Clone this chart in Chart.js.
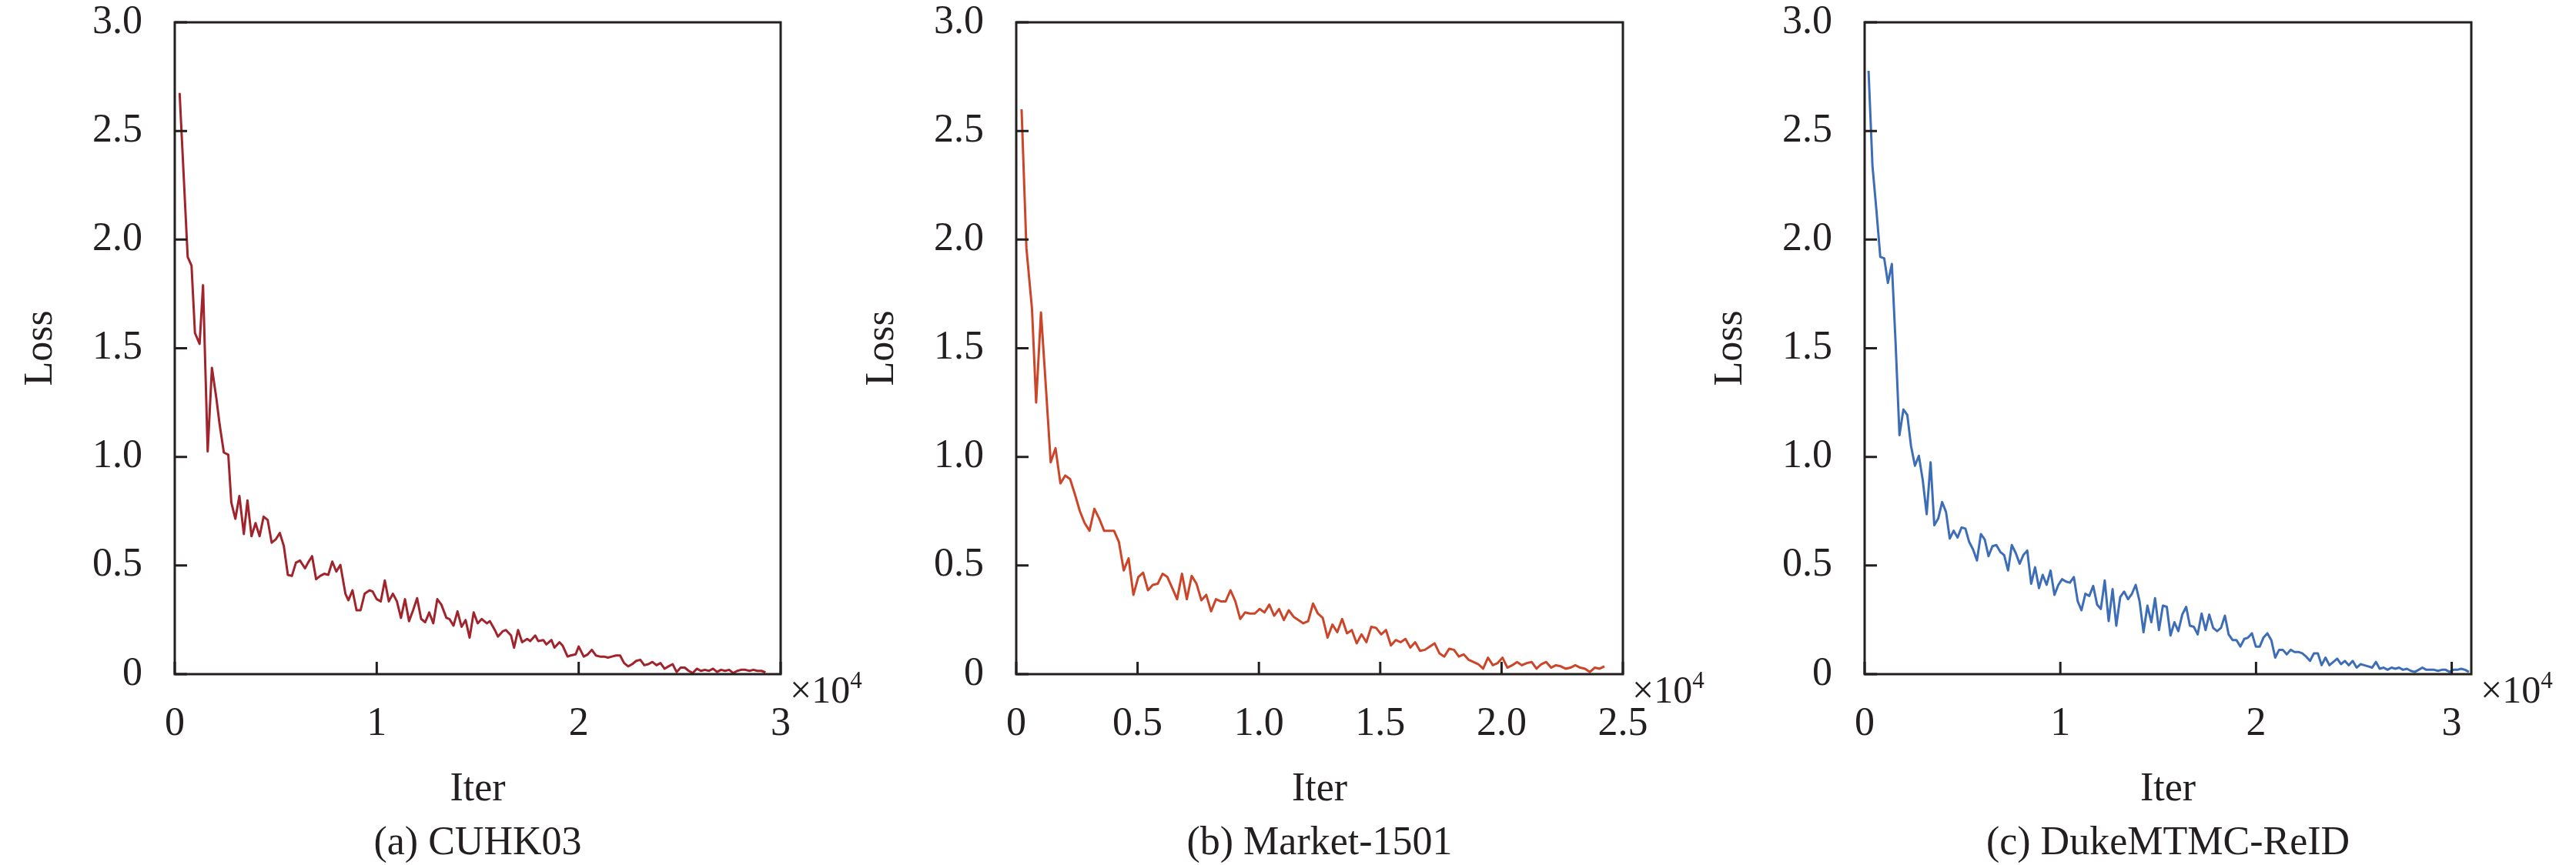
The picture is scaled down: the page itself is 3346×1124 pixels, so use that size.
<!DOCTYPE html>
<html>
<head>
    <meta charset="utf-8" />
    <title>Loss curves</title>
    <script src="https://cdn.jsdelivr.net/npm/chart.js"></script>
    <style>
        body { margin: 0; background: #fff; }
        #page { position: relative; width: 3346px; height: 1124px; overflow: hidden; }
        .panel { position: absolute; top: 0; }
        .txt { position: absolute; font-family: "Liberation Serif", "DejaVu Serif", serif; color: #231F20; white-space: nowrap; }
        .caption { font-size: 52px; line-height: 60px; text-align: center; top: 1063px; }
        .mult { font-size: 50px; line-height: 1; top: 868px; }
        .mult span { font-size: 31px; line-height: 1; vertical-align: 19px; }
    </style>
</head>
<body>
<div id="page">
    <div class="panel" style="left:0px"><canvas id="c1" width="1054" height="1076"></canvas></div>
    <div class="panel" style="left:1093px"><canvas id="c2" width="1055" height="1076"></canvas></div>
    <div class="panel" style="left:2195px"><canvas id="c3" width="1055" height="1076"></canvas></div>

    <div class="txt caption" style="left:227px;width:787px">(a) CUHK03</div>
    <div class="txt caption" style="left:1320px;width:788px">(b) Market-1501</div>
    <div class="txt caption" style="left:2422px;width:788px">(c) DukeMTMC-ReID</div>

    <div class="txt mult" style="left:1026px">&times;10<span>4</span></div>
    <div class="txt mult" style="left:2120px">&times;10<span>4</span></div>
    <div class="txt mult" style="left:3222px">&times;10<span>4</span></div>
</div>

<script>
    // iterations are in units of 1e4
    const yTicks = [0, 0.5, 1.0, 1.5, 2.0, 2.5, 3.0];
    const yTickLabels = ['0', '0.5', '1.0', '1.5', '2.0', '2.5', '3.0'];

    const x1Ticks = [0, 1, 2, 3];
    const x1TickLabels = ['0', '1', '2', '3'];
    const x2Ticks = [0, 0.5, 1.0, 1.5, 2.0, 2.5];
    const x2TickLabels = ['0', '0.5', '1.0', '1.5', '2.0', '2.5'];
    const x3Ticks = [0, 1, 2, 3];
    const x3TickLabels = ['0', '1', '2', '3'];

    // (a) CUHK03
    const cuhkIter = [0.024,0.064,0.083,0.10,0.123,0.14,0.163,0.184,0.206,0.222,
        0.243,0.265,0.28,0.30,0.32,0.342,0.36,0.38,0.40,0.42,
        0.44,0.46,0.48,0.50,0.52,0.54,0.56,0.58,0.60,0.62,
        0.645,0.66,0.68,0.70,0.72,0.74,0.76,0.78,0.80,0.82,
        0.845,0.86,0.88,0.90,0.92,0.94,0.965,0.98,1.00,1.02,
        1.04,1.06,1.08,1.10,1.12,1.14,1.16,1.18,1.20,1.22,
        1.24,1.26,1.28,1.30,1.32,1.345,1.36,1.38,1.40,1.42,
        1.44,1.46,1.48,1.50,1.52,1.545,1.56,1.585,1.60,1.625,
        1.64,1.665,1.68,1.70,1.72,1.745,1.76,1.785,1.80,1.825,
        1.84,1.865,1.88,1.905,1.92,1.945,1.96,1.985,2.00,2.025,
        2.045,2.065,2.085,2.105,2.125,2.145,2.165,2.185,2.205,2.225,
        2.245,2.265,2.285,2.305,2.325,2.345,2.365,2.385,2.405,2.425,
        2.445,2.465,2.485,2.505,2.525,2.545,2.565,2.585,2.605,2.625,
        2.645,2.665,2.685,2.705,2.725,2.745,2.765,2.785,2.805,2.825,
        2.845,2.865,2.885,2.905,2.925];
    const cuhkLoss = [2.675,1.92,1.88,1.57,1.52,1.79,1.025,1.41,1.27,1.15,
        1.02,1.01,0.79,0.715,0.82,0.645,0.80,0.635,0.695,0.635,
        0.725,0.71,0.605,0.62,0.65,0.59,0.457,0.452,0.513,0.523,
        0.487,0.513,0.543,0.437,0.452,0.462,0.457,0.518,0.472,0.503,
        0.37,0.34,0.386,0.294,0.294,0.37,0.386,0.38,0.345,0.335,
        0.431,0.335,0.37,0.335,0.259,0.345,0.244,0.294,0.35,0.254,
        0.239,0.284,0.234,0.345,0.32,0.259,0.254,0.223,0.289,0.218,
        0.249,0.168,0.284,0.234,0.254,0.234,0.244,0.203,0.173,0.198,
        0.203,0.178,0.122,0.203,0.147,0.162,0.152,0.178,0.152,0.157,
        0.137,0.157,0.122,0.147,0.132,0.081,0.086,0.091,0.127,0.081,
        0.091,0.112,0.086,0.081,0.081,0.076,0.081,0.086,0.086,0.051,
        0.036,0.046,0.061,0.066,0.041,0.046,0.056,0.041,0.051,0.025,
        0.036,0.046,0.010,0.030,0.030,0.015,0.005,0.025,0.015,0.020,
        0.015,0.025,0.010,0.020,0.015,0.020,0.005,0.015,0.020,0.020,
        0.015,0.020,0.015,0.015,0.008];

    // (b) Market-1501
    const marketIter = [0.022,0.042,0.065,0.082,0.102,0.122,0.142,0.162,0.182,0.202,
        0.222,0.242,0.262,0.282,0.302,0.322,0.342,0.362,0.383,0.403,
        0.423,0.443,0.463,0.483,0.503,0.523,0.543,0.563,0.583,0.603,
        0.623,0.643,0.663,0.683,0.703,0.723,0.743,0.763,0.783,0.803,
        0.823,0.843,0.863,0.883,0.903,0.923,0.943,0.963,0.983,1.003,
        1.023,1.043,1.063,1.083,1.103,1.123,1.143,1.163,1.183,1.203,
        1.223,1.243,1.263,1.283,1.303,1.323,1.343,1.363,1.383,1.403,
        1.423,1.443,1.463,1.483,1.504,1.524,1.544,1.564,1.584,1.604,
        1.624,1.644,1.664,1.684,1.704,1.724,1.744,1.764,1.784,1.804,
        1.824,1.844,1.864,1.884,1.904,1.924,1.944,1.964,1.984,2.004,
        2.024,2.044,2.064,2.084,2.104,2.124,2.144,2.164,2.184,2.204,
        2.224,2.244,2.264,2.284,2.304,2.324,2.344,2.364,2.384,2.404,
        2.424];
    const marketLoss = [2.60,1.96,1.68,1.25,1.665,1.325,0.975,1.04,0.878,0.914,
        0.898,0.827,0.751,0.695,0.66,0.761,0.716,0.66,0.66,0.66,
        0.609,0.477,0.533,0.365,0.447,0.467,0.386,0.411,0.416,0.462,
        0.447,0.396,0.345,0.462,0.345,0.452,0.416,0.34,0.365,0.289,
        0.345,0.335,0.335,0.386,0.335,0.254,0.284,0.279,0.279,0.30,
        0.284,0.32,0.269,0.30,0.249,0.294,0.264,0.249,0.234,0.244,
        0.325,0.279,0.259,0.168,0.228,0.193,0.254,0.188,0.203,0.142,
        0.183,0.147,0.218,0.213,0.183,0.203,0.132,0.157,0.147,0.162,
        0.122,0.147,0.107,0.112,0.127,0.142,0.096,0.081,0.117,0.112,
        0.081,0.091,0.066,0.056,0.046,0.025,0.076,0.041,0.051,0.076,
        0.030,0.041,0.056,0.041,0.051,0.056,0.025,0.046,0.056,0.030,
        0.041,0.036,0.025,0.030,0.041,0.030,0.025,0.010,0.030,0.025,
        0.036];

    // (c) DukeMTMC-ReID
    const dukeIter = [0.02,0.04,0.06,0.08,0.10,0.119,0.139,0.158,0.178,0.198,
        0.218,0.237,0.257,0.277,0.297,0.317,0.337,0.356,0.376,0.396,
        0.416,0.435,0.455,0.475,0.495,0.515,0.534,0.554,0.574,0.594,
        0.614,0.633,0.653,0.673,0.693,0.713,0.733,0.752,0.772,0.792,
        0.811,0.831,0.851,0.871,0.891,0.91,0.93,0.95,0.97,0.99,
        1.009,1.029,1.049,1.069,1.089,1.108,1.128,1.148,1.168,1.188,
        1.207,1.227,1.247,1.267,1.286,1.306,1.326,1.346,1.366,1.385,
        1.405,1.425,1.445,1.465,1.484,1.504,1.524,1.544,1.563,1.583,
        1.603,1.623,1.643,1.662,1.682,1.702,1.722,1.742,1.761,1.781,
        1.801,1.821,1.841,1.86,1.88,1.90,1.92,1.94,1.959,1.979,
        1.999,2.019,2.038,2.058,2.078,2.098,2.118,2.137,2.157,2.177,
        2.197,2.217,2.236,2.256,2.276,2.296,2.316,2.335,2.355,2.375,
        2.395,2.415,2.434,2.454,2.474,2.494,2.514,2.534,2.553,2.573,
        2.593,2.613,2.632,2.652,2.672,2.692,2.712,2.731,2.751,2.771,
        2.791,2.811,2.831,2.85,2.87,2.89,2.91,2.93,2.949,2.969,
        2.989,3.009,3.029,3.048,3.068,3.088];
    const dukeLoss = [2.777,2.34,2.137,1.92,1.914,1.80,1.888,1.528,1.10,1.218,
        1.193,1.05,0.959,1.005,0.893,0.736,0.975,0.685,0.716,0.792,
        0.746,0.624,0.66,0.629,0.675,0.67,0.609,0.574,0.523,0.645,
        0.619,0.543,0.589,0.594,0.563,0.548,0.477,0.594,0.558,0.508,
        0.548,0.569,0.416,0.492,0.396,0.457,0.411,0.477,0.365,0.411,
        0.437,0.426,0.421,0.447,0.335,0.294,0.37,0.36,0.406,0.32,
        0.30,0.431,0.244,0.391,0.223,0.355,0.38,0.345,0.37,0.411,
        0.335,0.193,0.315,0.239,0.35,0.203,0.315,0.31,0.178,0.239,
        0.198,0.274,0.31,0.223,0.218,0.183,0.279,0.203,0.274,0.213,
        0.198,0.213,0.269,0.183,0.157,0.157,0.127,0.162,0.168,0.188,
        0.127,0.127,0.168,0.188,0.157,0.076,0.112,0.112,0.091,0.112,
        0.102,0.102,0.096,0.081,0.061,0.096,0.096,0.041,0.076,0.041,
        0.056,0.071,0.046,0.061,0.041,0.061,0.030,0.046,0.041,0.036,
        0.030,0.056,0.025,0.030,0.020,0.030,0.025,0.030,0.020,0.025,
        0.015,0.010,0.020,0.030,0.020,0.020,0.020,0.015,0.020,0.020,
        0.010,0.020,0.020,0.025,0.020,0.010];

    const axisColor = '#231F20';
    Chart.defaults.font.family = '"Liberation Serif", "DejaVu Serif", serif';
    Chart.defaults.font.size = 52;
    Chart.defaults.color = axisColor;

    // box around the plot plus inward tick marks
    const framePlugin = {
        id: 'frame',
        afterDraw(chart) {
            const ctx = chart.ctx;
            const a = chart.chartArea;
            const xs = chart.scales.x, ys = chart.scales.y;
            ctx.save();
            ctx.strokeStyle = axisColor;
            ctx.lineWidth = 3;
            ctx.strokeRect(a.left, a.top, a.right - a.left, a.bottom - a.top);
            ctx.beginPath();
            xs.ticks.forEach(t => {
                const px = xs.getPixelForValue(t.value);
                ctx.moveTo(px, a.bottom);
                ctx.lineTo(px, a.bottom - 16);
            });
            ys.ticks.forEach(t => {
                const py = ys.getPixelForValue(t.value);
                ctx.moveTo(a.left, py);
                ctx.lineTo(a.left + 16, py);
            });
            ctx.stroke();
            ctx.restore();
        }
    };

    function makePanel(id, iter, loss, color, xMax, xTicks, xTickLabels) {
        const points = iter.map((v, i) => ({ x: v, y: loss[i] }));
        return new Chart(document.getElementById(id), {
            type: 'line',
            data: {
                datasets: [{
                    data: points,
                    borderColor: color,
                    borderWidth: 3,
                    pointRadius: 0,
                    tension: 0,
                    borderJoinStyle: 'round',
                    fill: false
                }]
            },
            options: {
                responsive: false,
                animation: false,
                devicePixelRatio: 1,
                layout: { padding: { left: 0, top: 29, right: 40, bottom: 0 } },
                plugins: { legend: { display: false }, tooltip: { enabled: false } },
                scales: {
                    x: {
                        type: 'linear',
                        min: 0,
                        max: xMax,
                        grid: { display: false, drawTicks: false },
                        border: { display: false },
                        afterBuildTicks: s => { s.ticks = xTicks.map(v => ({ value: v })); },
                        afterFit: s => { s.height = 200; s.paddingLeft = 0; s.paddingRight = 0; },
                        ticks: {
                            padding: 34,
                            maxRotation: 0,
                            autoSkip: false,
                            callback: (v, i) => xTickLabels[i]
                        },
                        title: { display: true, text: 'Iter', padding: { top: 0, bottom: 18 } }
                    },
                    y: {
                        min: 0,
                        max: 3,
                        grid: { display: false, drawTicks: false },
                        border: { display: false },
                        afterBuildTicks: s => { s.ticks = yTicks.map(v => ({ value: v })); },
                        afterFit: s => { s.width = 227; s.paddingTop = 0; s.paddingBottom = 0; },
                        ticks: {
                            padding: 42,
                            autoSkip: false,
                            callback: (v, i) => yTickLabels[i]
                        },
                        title: { display: true, text: 'Loss', padding: { top: 22, bottom: 0 } }
                    }
                }
            },
            plugins: [framePlugin]
        });
    }

    makePanel('c1', cuhkIter, cuhkLoss, '#A1232B', 3, x1Ticks, x1TickLabels);
    makePanel('c2', marketIter, marketLoss, '#CC4528', 2.5, x2Ticks, x2TickLabels);
    makePanel('c3', dukeIter, dukeLoss, '#3D6DB6', 3.1, x3Ticks, x3TickLabels);
</script>
</body>
</html>
